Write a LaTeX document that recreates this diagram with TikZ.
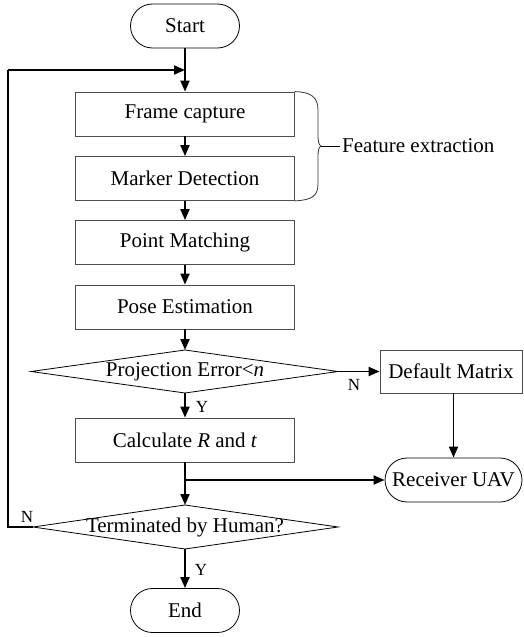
\documentclass[tikz,border=0pt]{standalone}
\usepackage{fontspec}
\setmainfont{Liberation Serif}
\usetikzlibrary{shapes.geometric,arrows.meta}
\begin{document}
\begin{tikzpicture}[x=1pt,y=-1pt,
  every node/.style={font=\fontsize{21}{23}\selectfont, inner sep=0pt},
  procbox/.style={draw=black!70, line width=0.8pt, minimum width=219pt, minimum height=44pt},
  termbox/.style={draw=black, line width=0.8pt, rounded corners=22pt, minimum height=44pt},
  conn/.style={line width=1.9pt, -{Triangle[length=11pt,width=9pt]}},
  line/.style={line width=1.9pt},
  lab/.style={font=\fontsize{17}{19}\selectfont}]
\useasboundingbox (0,0) rectangle (524,637);
\node[termbox, minimum width=109pt] (start) at (185,26) {Start};
\node[procbox] (frame) at (185,114) {Frame capture};
\node[procbox] (marker) at (185,178.5) {Marker Detection};
\node[procbox] (point) at (185,242.5) {Point Matching};
\node[procbox] (pose) at (185,307) {Pose Estimation};
\draw[line width=0.8pt] (185,350) coordinate (d1t) -- (338,371.5) coordinate (d1r) -- (185,393) coordinate (d1b) -- (31,371.5) coordinate (d1l) -- cycle;
\node at (185,371.5) (dec1) {Projection Error<\textit{n}};
\node[procbox, minimum width=142pt, minimum height=43pt] (default) at (451,371.5) {Default Matrix};
\node[procbox] (calc) at (185,440) {Calculate \textit{R} and \textit{t}};
\node[termbox, minimum width=137pt] (recv) at (453.5,480) {Receiver UAV};
\draw[line width=0.8pt] (185,505) coordinate (d2t) -- (338,527) coordinate (d2r) -- (185,549) coordinate (d2b) -- (33,527) coordinate (d2l) -- cycle;
\node at (185,527) (dec2) {Terminated by Human?};
\node[termbox, minimum width=109pt] (end) at (185,610.5) {End};
% brace
\draw[line width=0.8pt, black!80] (frame.north east) .. controls (312,92) and (318,98) .. (318,110) -- (318,136) .. controls (318,142) and (319,145) .. (321,146)
  .. controls (319,147) and (318,150) .. (318,156) -- (318,184) .. controls (318,196) and (312,200) .. (marker.south east);
\draw[line width=0.8pt] (321,146) -- (340,146) coordinate (fe);
\node[anchor=west] (featlab) at (342,146) {Feature extraction};
% connectors
\coordinate (loopin) at (185,70);
\draw[line] (start.south) -- (loopin);
\draw[conn] (loopin) -- (frame.north);
\draw[conn] (frame.south) -- (marker.north);
\draw[conn] (marker.south) -- (point.north);
\draw[conn] (point.south) -- (pose.north);
\draw[conn] (pose.south) -- (d1t);
\draw[conn] (d1r) -- (default.west);
\node[lab] (n1) at (354,385) {N};
\draw[conn] (d1b) -- (calc.north);
\node[lab] (y1) at (202,407) {Y};
\draw[conn] (default.south -| recv.north) -- (recv.north);
\coordinate (br) at (185,480);
\draw[line] (calc.south) -- (br);
\draw[conn] (br) -- (recv.west);
\draw[conn] (br) -- (d2t);
\draw[line] (d2l) -- (8,527) -- (8,70);
\draw[conn] (8,70) -- (loopin);
\node[lab] (n2) at (27,517) {N};
\draw[conn] (d2b) -- (end.north);
\node[lab] (y2) at (201,570) {Y};
\end{tikzpicture}
\end{document}
